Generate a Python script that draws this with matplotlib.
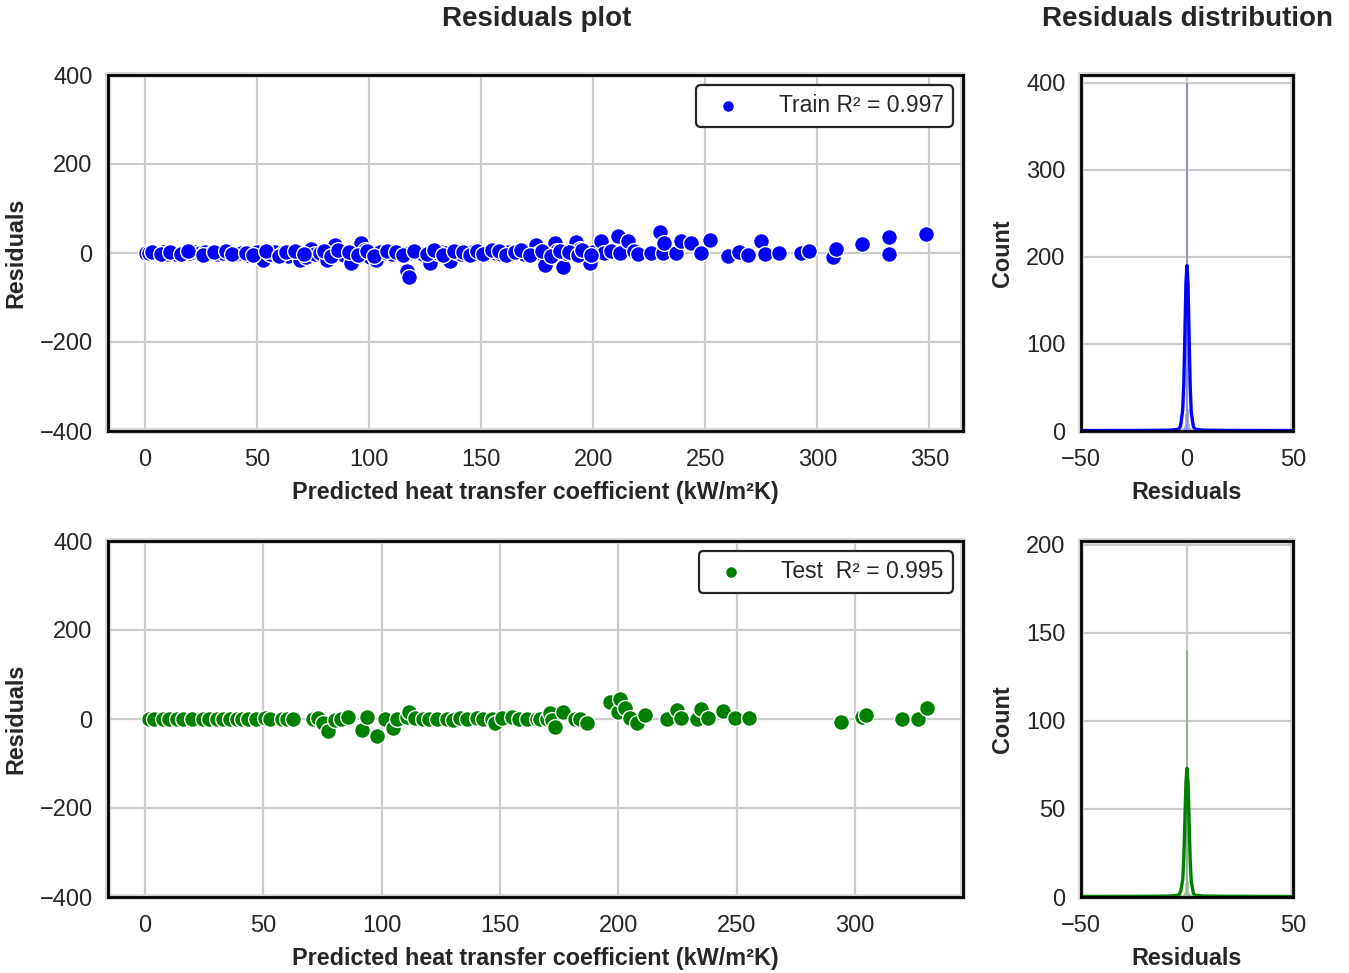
import matplotlib
matplotlib.use("Agg")
import matplotlib.pyplot as plt

plt.rcParams['font.family'] = ['Liberation Sans', 'DejaVu Sans']

# ---- scatter data (predicted value, residual) ----
train_pred = [0.5, 2, 4, 5.2, 6.7, 8, 10, 12.5, 14, 17, 20, 22, 24.5, 27, 29.7, 32, 34.8, 37,
              40.9, 43, 46, 49.8, 52.8, 55.7, 58, 61.6, 64, 66.9, 69, 72, 74.3, 76, 78, 81,
              84.7, 87, 89, 92, 94.4, 96.6, 98, 100.3, 103, 105, 107.8, 110, 113.7, 116.7,
              117.7, 118, 121, 124, 127, 130.7, 132, 134.5, 136, 139, 141, 143.4, 146, 149.3,
              152, 154, 156.8, 159, 162, 164, 166.3, 169, 171, 174.6, 176, 178.3, 180, 182.8,
              184, 186.5, 188, 191, 192.5, 194, 196.9, 198.4, 200, 203.6, 205, 208, 211, 211.8,
              215.5, 218, 220, 225.9, 229.6, 231, 231.8, 237, 239.3, 243.7, 248, 252, 260, 265,
              269, 275, 276.8, 282.8, 292.8, 296.5, 306.9, 308.4, 320, 332, 332, 348.5,
              3, 7, 11, 16, 19, 26, 31, 36, 39, 45, 48, 54, 60, 63, 67, 71, 80, 83, 86, 91,
              95, 99, 102, 108, 112, 115, 120, 126, 129, 133, 138, 142, 145, 148, 151, 155,
              158, 161, 165, 168, 172, 177, 181, 185, 189, 193, 195, 199]
train_resid = [0, 1, -1, 2, 0, 3, -2, 0, -3, 1, 0, 2, -1, 3, 0, -2, 0, 2,
               -3, 1, -4, 2, -15, -3, 2, -1, -6, 3, -15, -8, 10, -3, 0, -15,
               18, 0, -4, -22, 0, 22, 6, -8, -15, 3, 0, -3, 0, -40,
               -55, 0, 2, -3, -22, 0, 3, 0, -19, 2, -2, 0, 3, 0,
               -2, 2, 0, -3, 2, 1, 4, -2, 5, 18, 0, -27, 3, 22,
               5, -31, 0, 2, 25, 10, 0, -22, 3, 28, 0, 5, 38, 0,
               27, 4, -3, 0, 47, 0, 22, 0, 27, 22, 0, 29, -6, 2,
               -4, 27, -2, 1, 1, 4, -10, 10, 20, 35, -3, 42,
               2, -2, 3, -3, 5, -4, 3, 5, -3, 1, -5, 4, -6, 2, 5, -2, 4, -7, 6, 3,
               -5, 4, -6, 5, 3, -4, 5, -3, 6, -5, 4, 2, -4, 5, -3, 6,
               4, -5, 3, 6, -4, 5, -6, 4, 3, -5, 6, -4]

test_pred = [1.8, 4, 7.7, 10, 13.4, 16, 19.7, 24.6, 27, 30.3, 33, 35.9, 38.7, 41, 43.6, 47,
             50.7, 53, 57.7, 60, 62.7, 71.1, 73, 75.3, 77.5, 80.3, 83, 85.9, 91.5, 93.7, 97.9,
             101.4, 104.9, 106.3, 110.6, 111.7, 114, 117.6, 120, 123.2, 127.5, 130, 133.1, 136,
             140.1, 143, 146.5, 147.9, 151, 154.9, 158, 161.3, 165.5, 166.9, 169.7, 171.1,
             171.8, 173.2, 176.5, 181.7, 183.8, 186.6, 196.5, 200, 200.7, 202.8, 204.9, 207.7,
             211.2, 220.4, 224.6, 226.3, 233.1, 234.8, 238, 244.3, 249.3, 255.3, 294, 302.8,
             304.6, 319.7, 326.7, 330.3]
test_resid = [0, 1, 0, -1, 0, 1, 0, 0, -1, 1, 0, 0, 0, 1, 0, -1,
              2, 0, 0, -1, 0, 0, 2, -9, -26, -3, 1, 5, -25, 5, -38,
              0, -20, 1, 4, 16, 2, 0, 1, 1, 1, -2, 2, 0,
              3, 1, 1, -9, 2, 5, 0, -1, 0, -1, 0, 13,
              -3, -17, 15, -1, 1, -10, 39, 16, 45, 24, 2, -10,
              10, 1, 20, 2, 1, 22, 3, 19, 3, 3, -6, 4,
              10, 1, 1, 25]

# ---- residual distribution: histogram bins and kde curve ----
bin_centers = [-1.5, -1.0, -0.5, 0.0, 0.5, 1.0, 1.5]
train_counts = [2, 6, 20, 400, 25, 8, 3]
test_counts = [1, 3, 8, 140, 9, 3, 1]

kde_x = [-60, -20, -8, -4, -3, -2, -1.5, -1, -0.5, 0, 0.5, 1, 1.5, 2, 3, 4, 8, 20, 50]
train_kde = [0.3, 0.5, 0.8, 2, 6, 25, 55, 110, 170, 190, 168, 108, 52, 22, 5, 2, 0.8, 0.5, 0.3]
test_kde = [0.2, 0.3, 0.5, 1, 3, 10, 22, 43, 65, 73, 65, 43, 21, 9, 2, 1, 0.5, 0.3, 0.2]

train_label = "Train R\u00b2 = 0.997"
test_label = "Test  R\u00b2 = 0.995"

TXT = '#262626'
GRID = '#cccccc'

fig = plt.figure(figsize=(13.49, 9.73), dpi=100)

W, H = 1349, 973
def box(x0, y0, x1, y1):
    return [x0 / W, 1 - y1 / H, (x1 - x0) / W, (y1 - y0) / H]

ax_tr = fig.add_axes(box(108, 75, 963, 431))
ax_trh = fig.add_axes(box(1081, 75, 1293, 431))
ax_te = fig.add_axes(box(108, 541, 963, 897))
ax_teh = fig.add_axes(box(1081, 541, 1293, 897))


def style(ax):
    ax.set_facecolor('white')
    ax.grid(True, color=GRID, linewidth=1.6)
    ax.set_axisbelow(True)
    ax.tick_params(length=0, labelsize=17, colors=TXT)
    ax.tick_params(axis='x', pad=13)
    ax.tick_params(axis='y', pad=11)
    ax.patch.set_edgecolor('#d0d0d0')
    ax.patch.set_linewidth(4)
    for s in ax.spines.values():
        s.set_color('black')
        s.set_linewidth(2)
        s.set_zorder(5)


def scatter_panel(ax, xs, ys, color, label, xlim):
    ax.scatter(xs, ys, s=130, color=color, edgecolor='white', linewidth=1, label=label, zorder=3)
    style(ax)
    ax.set_xlim(*xlim)
    ax.set_ylim(-400, 400)
    ax.set_yticks([-400, -200, 0, 200, 400])
    ax.set_xlabel("Predicted heat transfer coefficient (kW/m\u00b2K)", fontsize=16.8,
                  fontweight='bold', color=TXT, labelpad=7)
    ax.set_ylabel("Residuals", fontsize=16.8, fontweight='bold', color=TXT, labelpad=9)
    leg = ax.legend(loc='upper right', fontsize=16.5, frameon=True, fancybox=True,
                    markerscale=0.75, handletextpad=1.2, borderpad=0.4,
                    borderaxespad=0.45)
    leg.get_frame().set_edgecolor(TXT)
    leg.get_frame().set_linewidth(1.6)
    leg.get_frame().set_alpha(1)
    for t in leg.get_texts():
        t.set_color(TXT)


def dist_panel(ax, counts, kde, color, ymax, yticks):
    ax.bar(bin_centers, counts, width=0.5, color=color, alpha=0.3, linewidth=0, zorder=2)
    ax.plot(kde_x, kde, color=color, linewidth=2.4, zorder=4)
    style(ax)
    ax.set_xlim(-50, 50)
    ax.set_xticks([-50, 0, 50])
    ax.set_ylim(0, ymax)
    ax.set_yticks(yticks)
    ax.set_xlabel("Residuals", fontsize=16.8, fontweight='bold', color=TXT, labelpad=7)
    ax.set_ylabel("Count", fontsize=16.8, fontweight='bold', color=TXT, labelpad=9)


scatter_panel(ax_tr, train_pred, train_resid, 'blue', train_label, (-16.5, 365))
ax_tr.set_xticks([0, 50, 100, 150, 200, 250, 300, 350])
scatter_panel(ax_te, test_pred, test_resid, 'green', test_label, (-15.6, 345.6))
ax_te.set_xticks([0, 50, 100, 150, 200, 250, 300])

dist_panel(ax_trh, train_counts, train_kde, 'blue', 409, [0, 100, 200, 300, 400])
dist_panel(ax_teh, test_counts, test_kde, 'green', 202, [0, 50, 100, 150, 200])

fig.text(537 / W, 1 - 19 / H, "Residuals plot", ha='center', va='center',
         fontsize=20, fontweight='bold', color=TXT)
fig.text(1187 / W, 1 - 19 / H, "Residuals distribution", ha='center', va='center',
         fontsize=20, fontweight='bold', color=TXT)

fig.savefig("out.png", dpi=100)
